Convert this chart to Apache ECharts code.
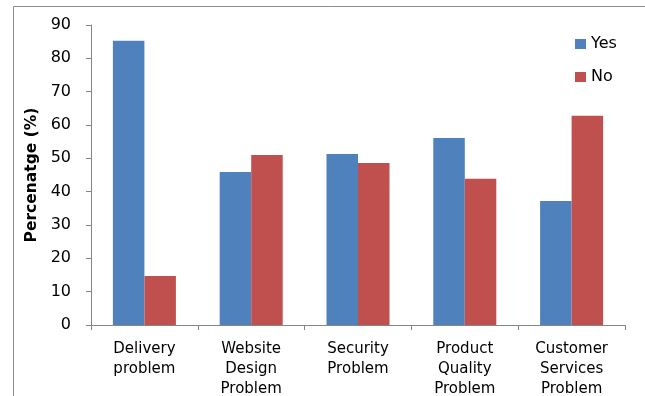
<!DOCTYPE html>
<html>
<head>
<meta charset="utf-8">
<script src="https://cdn.jsdelivr.net/npm/echarts@6/dist/echarts.min.js"></script>
<style>
  html, body { margin: 0; padding: 0; background: #fff; }
  #chart { width: 645px; height: 396px; }
</style>
</head>
<body>
<div id="chart"></div>
<script>
// Survey answers per problem type (percent of respondents)
const categories = [
  'Delivery\nproblem',
  'Website\nDesign\nProblem',
  'Security\nProblem',
  'Product\nQuality\nProblem',
  'Customer\nServices\nProblem'
];
const yesValues = [85.3, 45.9, 51.3, 56.1, 37.2];
const noValues = [14.7, 51.0, 48.6, 43.9, 62.8];
const yTicks = { min: 0, max: 90, interval: 10 };

const FONT = 'DejaVu Sans';
const AXIS_GREY = '#868686';

const chart = echarts.init(document.getElementById('chart'), null, { renderer: 'canvas' });

chart.setOption({
  animation: false,
  backgroundColor: '#ffffff',
  graphic: [{
    type: 'rect',
    shape: { x: 13.5, y: 6.5, width: 800, height: 600 },
    style: { fill: 'none', stroke: '#8c8c8c', lineWidth: 1 },
    silent: true
  }],
  grid: {
    left: 91, right: 20, top: 25, bottom: 71,
    containLabel: false,
    outerBoundsMode: 'none'
  },
  legend: {
    orient: 'vertical',
    left: 570,
    top: 31,
    itemWidth: 11,
    itemHeight: 10,
    itemGap: 17,
    icon: 'rect',
    textStyle: { fontFamily: FONT, fontSize: 16, color: '#000', padding: [0, 0, 0, 0] },
    data: ['Yes', 'No']
  },
  xAxis: {
    type: 'category',
    data: categories,
    axisLine: { lineStyle: { color: AXIS_GREY, width: 1 } },
    axisTick: { show: true, length: 5, lineStyle: { color: AXIS_GREY } },
    axisLabel: {
      interval: 0,
      margin: 14,
      fontFamily: FONT,
      fontSize: 15,
      lineHeight: 20,
      color: '#000'
    }
  },
  yAxis: {
    type: 'value',
    min: yTicks.min,
    max: yTicks.max,
    interval: yTicks.interval,
    name: 'Percenatge (%)',
    nameLocation: 'middle',
    nameGap: 51,
    nameRotate: 90,
    nameTextStyle: { fontFamily: FONT, fontSize: 15.5, fontWeight: 'bold', color: '#000' },
    axisLine: { show: true, lineStyle: { color: AXIS_GREY, width: 1 } },
    axisTick: { show: true, length: 5, lineStyle: { color: AXIS_GREY } },
    splitLine: { show: false },
    axisLabel: { margin: 20, fontFamily: FONT, fontSize: 16, color: '#000' }
  },
  series: [
    {
      name: 'Yes',
      type: 'bar',
      data: yesValues,
      barGap: '0%',
      barCategoryGap: '41%',
      itemStyle: { color: '#4F81BD' }
    },
    {
      name: 'No',
      type: 'bar',
      data: noValues,
      barGap: '0%',
      barCategoryGap: '41%',
      itemStyle: { color: '#C0504D' }
    }
  ]
});
</script>
</body>
</html>
